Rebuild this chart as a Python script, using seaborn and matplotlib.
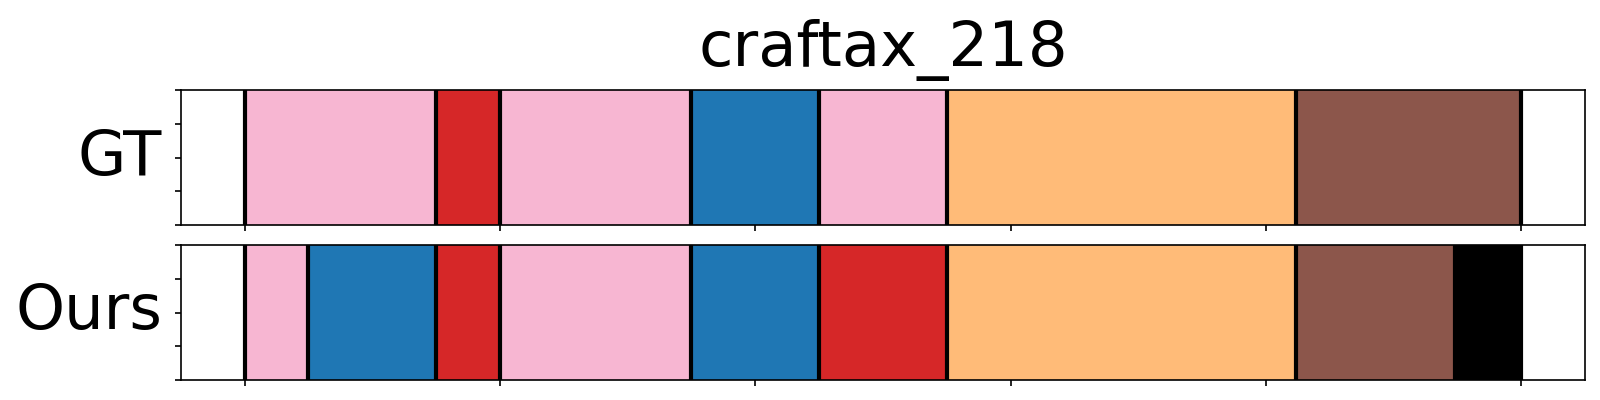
import numpy as np
import pandas as pd
import matplotlib
matplotlib.use("Agg")
import matplotlib.pyplot as plt
import seaborn as sns

# segment boundaries (frames) and labels for each row
title = "craftax_218"
row_names = ["GT", "Ours"]
gt_edges = [0, 75, 100, 175, 225, 275, 412, 500]
gt_labels = ["pink", "red", "pink", "blue", "pink", "orange", "brown"]
ours_edges = [0, 25, 75, 100, 175, 225, 275, 412, 474, 500]
ours_labels = ["pink", "blue", "red", "pink", "blue", "red", "orange", "brown", "black"]

palette = {
    "pink": "#f7b6d2",
    "red": "#d62728",
    "blue": "#1f77b4",
    "orange": "#ffbb78",
    "brown": "#8c564b",
    "black": "#000000",
}

sns.set_theme(style="ticks", rc={"text.color": "black", "axes.labelcolor": "black",
                                 "axes.edgecolor": "black", "xtick.color": "black",
                                 "ytick.color": "black"})
plt.rcParams["font.family"] = ["DejaVu Sans"]

fig = plt.figure(figsize=(16, 4), dpi=100)
ax1 = fig.add_axes([0.113, 0.4375, 0.8776, 0.3375])
ax2 = fig.add_axes([0.113, 0.05, 0.8776, 0.3375])

for ax, name, edges, labels in [(ax1, row_names[0], gt_edges, gt_labels),
                                (ax2, row_names[1], ours_edges, ours_labels)]:
    edges = np.array(edges)
    mids = (edges[:-1] + edges[1:]) / 2
    df = pd.DataFrame({"t": mids, "action": labels})
    # one count per segment -> a full-height bar spanning the segment
    sns.histplot(data=df, x="t", hue="action", bins=edges, stat="count",
                 multiple="layer", palette=palette, alpha=1, linewidth=0,
                 legend=False, ax=ax)
    for e in edges:
        ax.axvline(e, color="black", lw=3)
    ax.set_xlim(-25, 525)
    ax.set_ylim(0, 1)
    ax.set_xticks([0, 100, 200, 300, 400, 500])
    ax.set_yticks([0, 0.25, 0.5, 0.75, 1.0])
    ax.set_xticklabels([])
    ax.set_yticklabels([])
    ax.set_xlabel("")
    ax.set_ylabel(name, rotation=0, fontsize=45, ha="right", va="center", labelpad=6)
    for s in ax.spines.values():
        s.set_visible(True)
        s.set_color("black")
        s.set_linewidth(1.2)
    ax.tick_params(color="black", width=1.2, length=4)

ax1.set_title(title, fontsize=45, y=1.0, pad=17)

fig.savefig("out.png", dpi=100)
